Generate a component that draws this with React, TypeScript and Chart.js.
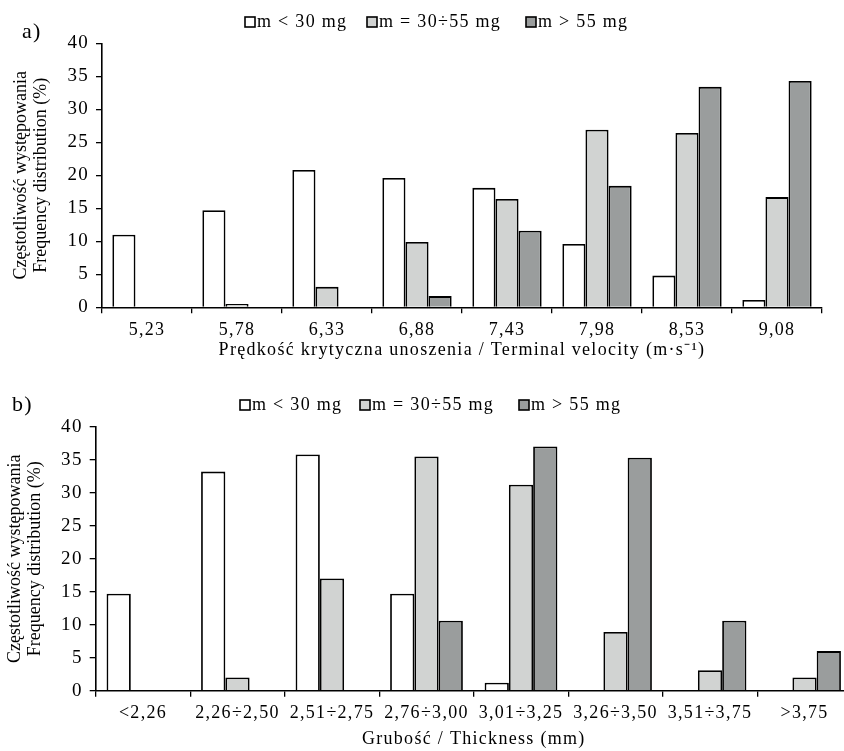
import React, { useEffect, useRef } from 'react';
import { Chart, registerables } from 'chart.js';

Chart.register(...registerables);

const seriesLabels = ['m < 30 mg', 'm = 30÷55 mg', 'm > 55 mg'];
const seriesColors = ['#ffffff', '#d1d3d2', '#9a9d9d'];

const velocityCategories = ['5,23', '5,78', '6,33', '6,88', '7,43', '7,98', '8,53', '9,08'];
const velocitySmall = [11.0, 14.7, 20.8, 19.6, 18.1, 9.6, 4.8, 1.1];
const velocityMedium = [0, 0.5, 3.1, 9.9, 16.4, 26.9, 26.4, 16.7];
const velocityLarge = [0, 0, 0, 1.7, 11.6, 18.4, 33.4, 34.3];

const thicknessCategories = ['<2,26', '2,26÷2,50', '2,51÷2,75', '2,76÷3,00', '3,01÷3,25', '3,26÷3,50', '3,51÷3,75', '>3,75'];
const thicknessSmall = [14.7, 33.2, 35.8, 14.7, 1.2, 0, 0, 0];
const thicknessMedium = [0, 2.0, 17.0, 35.5, 31.2, 8.9, 3.1, 2.0];
const thicknessLarge = [0, 0, 0, 10.6, 37.0, 35.3, 10.6, 6.0];

const yTicks = [0, 5, 10, 15, 20, 25, 30, 35, 40];
const yTitleLines = ['Częstotliwość występowania', 'Frequency distribution (%)'];
const velocityTitle = 'Prędkość krytyczna unoszenia / Terminal velocity (m·s⁻¹)';
const thicknessTitle = 'Grubość / Thickness (mm)';

const FONT = '"Liberation Serif", "Times New Roman", serif';

const decorPlugin = {
  id: 'decor',
  beforeDraw(chart: any) {
    (chart.ctx as any).letterSpacing = '1.3px';
  },
  afterDraw(chart: any, _args: any, opts: any) {
    const ctx = chart.ctx as any;
    ctx.save();
    ctx.fillStyle = '#000';
    ctx.textBaseline = 'middle';
    ctx.textAlign = 'left';
    ctx.font = `22px ${FONT}`;
    ctx.fillText(opts.panel, opts.panelX, opts.panelY);
    ctx.font = `18px ${FONT}`;
    chart.data.datasets.forEach((ds: any, i: number) => {
      const x = opts.legendX[i];
      const y = opts.legendY;
      ctx.fillStyle = ds.backgroundColor;
      ctx.fillRect(x, y - 5, 10, 10);
      ctx.strokeStyle = '#000';
      ctx.lineWidth = 1.6;
      ctx.strokeRect(x, y - 5, 10, 10);
      ctx.fillStyle = '#000';
      ctx.fillText(ds.label, x + 12, y);
    });
    ctx.letterSpacing = '0px';
    const ca = chart.chartArea;
    const cy = (ca.top + ca.bottom) / 2;
    ctx.translate(opts.yTitleX, cy);
    ctx.rotate(-Math.PI / 2);
    ctx.textAlign = 'center';
    ctx.font = `18px ${FONT}`;
    yTitleLines.forEach((line, i) => ctx.fillText(line, 0, i * opts.yTitleGap));
    ctx.restore();
  },
};

function makeConfig(p: {
  categories: string[];
  small: number[];
  medium: number[];
  large: number[];
  xTitle: string;
  yWidth: number;
  xHeight: number;
  padTop: number;
  padRight: number;
  tickPad: number;
  titlePadBottom: number;
  panel: string;
  panelX: number;
  panelY: number;
  legendX: number[];
  legendY: number;
  yTitleX: number;
}): any {
  const values = [p.small, p.medium, p.large];
  return {
    type: 'bar',
    data: {
      labels: p.categories,
      datasets: values.map((v, i) => ({
        label: seriesLabels[i],
        data: v,
        backgroundColor: seriesColors[i],
        borderColor: '#000',
        borderWidth: 1.8,
        categoryPercentage: 0.77,
        barPercentage: 1,
      })),
    },
    options: {
      responsive: false,
      animation: false,
      devicePixelRatio: 1,
      layout: { padding: { top: p.padTop, left: 0, right: p.padRight, bottom: 0 } },
      plugins: {
        legend: { display: false },
        tooltip: { enabled: false },
        title: { display: false },
        decor: {
          panel: p.panel,
          panelX: p.panelX,
          panelY: p.panelY,
          legendX: p.legendX,
          legendY: p.legendY,
          yTitleX: p.yTitleX,
          yTitleGap: 20,
        },
      },
      scales: {
        x: {
          z: 1,
          afterFit: (s: any) => {
            s.height = p.xHeight;
          },
          grid: {
            display: true,
            drawOnChartArea: false,
            drawTicks: true,
            tickLength: 6,
            color: '#000',
            lineWidth: 1.3,
            offset: true,
          },
          border: { display: true, color: '#000', width: 1.6 },
          ticks: {
            color: '#000',
            font: { family: FONT, size: 18 },
            padding: p.tickPad,
            maxRotation: 0,
            minRotation: 0,
            autoSkip: false,
          },
          title: {
            display: true,
            text: p.xTitle,
            color: '#000',
            font: { family: FONT, size: 18 },
            padding: { top: 0, bottom: p.titlePadBottom },
          },
        },
        y: {
          min: 0,
          max: 40,
          afterFit: (s: any) => {
            s.width = p.yWidth;
          },
          afterBuildTicks: (s: any) => {
            s.ticks = yTicks.map((v) => ({ value: v }));
          },
          grid: {
            display: true,
            drawOnChartArea: false,
            drawTicks: true,
            tickLength: 6,
            color: '#000',
            lineWidth: 1.3,
          },
          border: { display: true, color: '#000', width: 1.6 },
          ticks: {
            color: '#000',
            font: { family: FONT, size: 19 },
            padding: 7,
          },
          title: { display: false },
        },
      },
    },
    plugins: [decorPlugin],
  };
}

function ChartCanvas({ config, width, height, top }: { config: any; width: number; height: number; top: number }) {
  const ref = useRef<HTMLCanvasElement | null>(null);
  useEffect(() => {
    if (!ref.current) return;
    const chart = new Chart(ref.current, config);
    return () => chart.destroy();
  }, []);
  return (
    <canvas
      ref={ref}
      width={width}
      height={height}
      style={{ position: 'absolute', left: 0, top, width, height, display: 'block' }}
    />
  );
}

export default function App() {
  const topConfig = makeConfig({
    categories: velocityCategories,
    small: velocitySmall,
    medium: velocityMedium,
    large: velocityLarge,
    xTitle: velocityTitle,
    yWidth: 102,
    xHeight: 67.7,
    padTop: 43.3,
    padRight: 22,
    tickPad: 6,
    titlePadBottom: 14,
    panel: 'a)',
    panelX: 22,
    panelY: 32,
    legendX: [245, 367, 526],
    legendY: 22,
    yTitleX: 21,
  });
  const bottomConfig = makeConfig({
    categories: thicknessCategories,
    small: thicknessSmall,
    medium: thicknessMedium,
    large: thicknessLarge,
    xTitle: thicknessTitle,
    yWidth: 95.7,
    xHeight: 60.3,
    padTop: 51.7,
    padRight: 18.2,
    tickPad: 6,
    titlePadBottom: 1,
    panel: 'b)',
    panelX: 12,
    panelY: 30,
    legendX: [240, 360, 519],
    legendY: 30,
    yTitleX: 15,
  });
  return (
    <div
      style={{
        position: 'fixed',
        left: 0,
        top: 0,
        width: 844,
        height: 751,
        overflow: 'hidden',
        background: '#fff',
      }}
    >
      <ChartCanvas config={topConfig} width={844} height={375} top={0} />
      <ChartCanvas config={bottomConfig} width={870} height={376} top={375} />
    </div>
  );
}
